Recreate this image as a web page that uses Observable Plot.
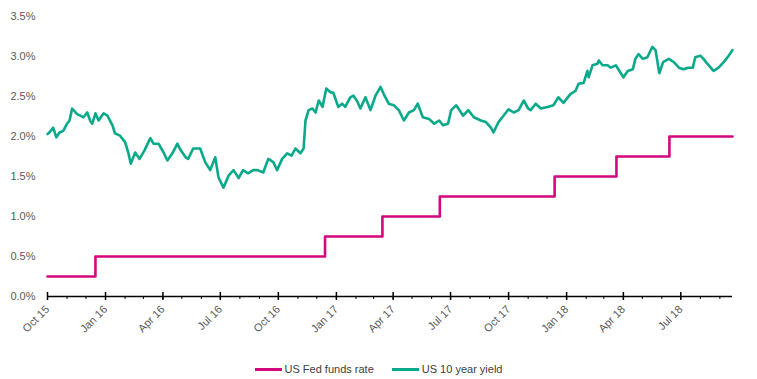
<!DOCTYPE html>
<html>
<head>
<meta charset="utf-8">
<script src="https://cdn.jsdelivr.net/npm/d3@7"></script>
<script src="https://cdn.jsdelivr.net/npm/@observablehq/plot@0.6"></script>
<style>
  body { margin: 0; background: #fff; font-family: "Liberation Sans", Arial, sans-serif; }
  #chart { width: 757px; }
  .legend { display: flex; justify-content: center; align-items: center; gap: 18px; font-size: 11px; color: #404040; margin-top: 12px; height: 14px; }
  .legend span.item { display: flex; align-items: center; }
  .legend span.sw { display: inline-block; width: 27px; height: 3px; margin-right: 3px; }
</style>
</head>
<body>
<div id="chart"></div>
<script>
const fedLabel = "US Fed funds rate";
const yieldLabel = "US 10 year yield";
const pink = "#d4077f";
const teal = "#0aa98a";

const fedDates = ["2015-10-01","2015-12-16","2016-12-14","2017-03-15","2017-06-14","2017-12-13","2018-03-21","2018-06-13","2018-09-21"];
const fedRates = [0.25,0.5,0.75,1.0,1.25,1.5,1.75,2.0,2.0];

const yieldDates = [
"2015-10-01","2015-10-05","2015-10-10","2015-10-15","2015-10-20","2015-10-26","2015-11-01","2015-11-05","2015-11-09","2015-11-17","2015-11-22","2015-11-27",
"2015-12-03","2015-12-08","2015-12-11","2015-12-16","2015-12-21","2015-12-29","2016-01-04","2016-01-12","2016-01-16","2016-01-24","2016-02-01","2016-02-06",
"2016-02-10","2016-02-17","2016-02-24","2016-03-03","2016-03-12","2016-03-17","2016-03-25","2016-04-02","2016-04-08","2016-04-16","2016-04-24","2016-04-29",
"2016-05-07","2016-05-11","2016-05-19","2016-05-30","2016-06-07","2016-06-15","2016-06-23","2016-06-28","2016-07-06","2016-07-14","2016-07-22","2016-07-30",
"2016-08-06","2016-08-14","2016-08-22","2016-08-29","2016-09-07","2016-09-15","2016-09-23","2016-09-29","2016-10-07","2016-10-15","2016-10-22","2016-10-28",
"2016-11-05","2016-11-10","2016-11-13","2016-11-18","2016-11-24","2016-11-29","2016-12-04","2016-12-10","2016-12-16","2016-12-23","2016-12-27","2017-01-04",
"2017-01-10","2017-01-15","2017-01-23","2017-01-28","2017-02-03","2017-02-08","2017-02-16","2017-02-24","2017-03-04","2017-03-12","2017-03-17","2017-03-25",
"2017-04-02","2017-04-10","2017-04-18","2017-04-26","2017-05-04","2017-05-10","2017-05-18","2017-05-28","2017-06-05","2017-06-13","2017-06-19","2017-06-27",
"2017-07-02","2017-07-10","2017-07-21","2017-07-29","2017-08-07","2017-08-18","2017-08-26","2017-09-03","2017-09-07","2017-09-15","2017-09-23","2017-10-01",
"2017-10-09","2017-10-17","2017-10-25","2017-11-01","2017-11-05","2017-11-13","2017-11-21","2017-12-02","2017-12-11","2017-12-19","2017-12-27","2018-01-07",
"2018-01-15","2018-01-20","2018-01-28","2018-02-03","2018-02-05","2018-02-11","2018-02-19","2018-02-21","2018-02-27","2018-03-07","2018-03-12","2018-03-20",
"2018-03-28","2018-04-01","2018-04-08","2018-04-16","2018-04-20","2018-04-25","2018-05-02","2018-05-09","2018-05-17","2018-05-22","2018-05-28","2018-06-03",
"2018-06-12","2018-06-20","2018-06-28","2018-07-05","2018-07-13","2018-07-20","2018-07-24","2018-08-01","2018-08-06","2018-08-12","2018-08-22","2018-08-30",
"2018-09-07","2018-09-15","2018-09-21"];
const yieldValues = [
2.03,2.06,2.11,1.99,2.05,2.07,2.16,2.20,2.35,2.28,2.26,2.24,
2.30,2.19,2.16,2.29,2.20,2.29,2.26,2.14,2.04,2.01,1.93,1.80,
1.66,1.80,1.72,1.83,1.98,1.91,1.91,1.80,1.70,1.79,1.91,1.83,
1.74,1.72,1.85,1.85,1.68,1.58,1.74,1.49,1.36,1.51,1.58,1.48,
1.58,1.54,1.58,1.58,1.55,1.72,1.68,1.58,1.72,1.79,1.76,1.85,
1.79,1.85,2.20,2.33,2.35,2.30,2.45,2.37,2.60,2.55,2.55,2.37,
2.41,2.37,2.49,2.51,2.44,2.35,2.49,2.33,2.51,2.62,2.53,2.41,
2.39,2.33,2.20,2.30,2.33,2.41,2.24,2.22,2.16,2.20,2.14,2.16,
2.33,2.39,2.26,2.33,2.24,2.20,2.18,2.11,2.05,2.18,2.26,2.34,
2.30,2.33,2.45,2.35,2.33,2.41,2.35,2.37,2.39,2.49,2.42,2.53,
2.57,2.66,2.67,2.82,2.74,2.89,2.91,2.95,2.89,2.89,2.86,2.89,
2.79,2.74,2.82,2.84,2.97,3.03,2.97,2.99,3.12,3.08,2.79,2.93,
2.97,2.93,2.86,2.84,2.86,2.86,2.99,3.01,2.97,2.91,2.82,2.86,
2.93,3.01,3.08];

const fed = fedDates.map((d, i) => ({date: new Date(d), value: fedRates[i]}));
const yld = yieldDates.map((d, i) => ({date: new Date(d), value: yieldValues[i]}));

const xStart = new Date("2015-10-01");
const xEnd = new Date("2018-09-21");
const yTicks = [0, 0.5, 1.0, 1.5, 2.0, 2.5, 3.0, 3.5];
const months = d3.utcMonth.range(xStart, xEnd);
const quarters = d3.utcMonth.every(3).range(xStart, xEnd);

const chart = Plot.plot({
  width: 757,
  height: 350,
  marginLeft: 47,
  marginRight: 25,
  marginTop: 16,
  marginBottom: 54,
  style: {fontFamily: "'Liberation Sans', Arial, sans-serif", fontSize: "11px", color: "#595959", background: "#fff"},
  x: {type: "utc", domain: [xStart, xEnd]},
  y: {domain: [0, 3.5]},
  marks: [
    Plot.axisY({ticks: yTicks, tickFormat: d => d.toFixed(1) + "%", tickSize: 0, tickPadding: 12, fill: "#595959", label: null}),
    Plot.line(fed, {x: "date", y: "value", curve: "step-after", stroke: pink, strokeWidth: 2.6}),
    Plot.line(yld, {x: "date", y: "value", stroke: teal, strokeWidth: 2.6, strokeLinejoin: "round"}),
    Plot.ruleY([0], {stroke: "#000", strokeWidth: 1.5}),
    Plot.axisX({ticks: months, tickSize: 3, tickFormat: () => "", stroke: "#000", label: null}),
    Plot.ruleX(quarters, {y1: 0, y2: 0.05, stroke: "#000", strokeWidth: 1.5}),
    Plot.axisX({ticks: quarters, tickSize: 4, tickPadding: 7, tickRotate: -45, tickFormat: d3.utcFormat("%b %y"), stroke: "#000", strokeWidth: 1.5, fill: "#595959", label: null})
  ]
});
document.getElementById("chart").appendChild(chart);

const legend = document.createElement("div");
legend.className = "legend";
legend.innerHTML = `<span class="item"><span class="sw" style="background:${pink}"></span>${fedLabel}</span><span class="item"><span class="sw" style="background:${teal}"></span>${yieldLabel}</span>`;
document.getElementById("chart").appendChild(legend);
</script>
</body>
</html>
